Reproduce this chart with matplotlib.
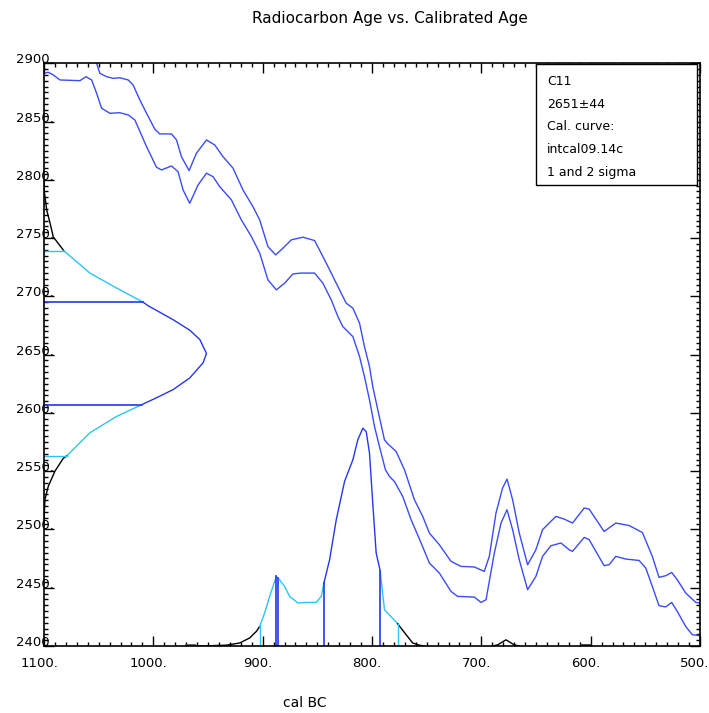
import numpy as np
import matplotlib.pyplot as plt
from matplotlib.patches import Rectangle
from matplotlib.ticker import MultipleLocator, FixedLocator
from matplotlib.transforms import ScaledTranslation

# calibration curve, upper and lower envelope (cal BC, 14C age BP)
upper_cal = [1055, 1051.9, 1048.9, 1042.7, 1036.7, 1030.6, 1023.0, 1018.5, 1012.3, 1006.2, 998.6, 994.1,
             983.4, 978.8, 974.3, 967.3, 960.6, 951.4, 943.8, 936.3, 927.1, 918.0, 908.9, 902.7,
             895.2, 888.1, 881.5, 873.8, 863.2, 852.5, 841.8, 832.7, 823.6, 817.5, 811.4, 806.9,
             802.3, 799.3, 794.7, 788.6, 785.6, 777.9, 770.3, 761.2, 753.6, 747.5, 738.4, 727.7,
             718.6, 706.4, 697.3, 692.7, 686.6, 680.6, 676.5, 671.4, 665.3, 657.7, 650.1, 644.0,
             631.8, 624.2, 616.6, 605.9, 601.4, 587.7, 577.0, 564.9, 552.7, 543.6, 537.5, 531.4,
             525.9, 520.8, 513.1, 503.9, 500]
upper_age = [2910, 2900, 2891.4, 2888.5, 2887.1, 2887.6, 2885.7, 2881.4, 2868.5, 2857.1, 2843.4, 2839.4,
             2839.4, 2834.2, 2819.9, 2807.9, 2822.8, 2834.2, 2829.9, 2819.9, 2810.0, 2791.3, 2777.0, 2765.6,
             2742.7, 2735.6, 2741.3, 2748.5, 2750.8, 2747.9, 2728.5, 2711.3, 2694.2, 2689.9, 2677.0, 2656.9,
             2639.8, 2622.6, 2602.7, 2576.9, 2573.5, 2566.9, 2551.2, 2525.5, 2511.2, 2496.9, 2486.9, 2472.6,
             2468.3, 2467.8, 2464.0, 2476.9, 2514.1, 2535.5, 2543.2, 2525.5, 2496.9, 2469.7, 2482.6, 2499.8,
             2511.2, 2508.9, 2505.5, 2518.4, 2517.5, 2498.3, 2505.5, 2503.4, 2497.4, 2476.9, 2458.9, 2460.3,
             2463.1, 2456.9, 2445.5, 2437.4, 2436.9]

lower_cal = [1100, 1096.1, 1091.5, 1085.4, 1067.1, 1061.6, 1056.4, 1051.9, 1047.3, 1039.7, 1030.6, 1023.0,
             1016.9, 1006.2, 997.1, 992.5, 983.4, 977.4, 972.8, 966.7, 959.1, 951.4, 945.4, 939.3,
             928.6, 919.5, 910.3, 902.7, 895.2, 887.5, 879.9, 872.3, 864.7, 852.5, 844.9, 837.3,
             831.2, 826.7, 817.5, 811.4, 806.9, 802.3, 797.7, 793.2, 787.7, 784.0, 779.5, 771.9,
             764.2, 755.1, 747.5, 738.4, 727.7, 721.7, 706.4, 700.3, 695.7, 688.1, 682.0, 676.5,
             671.4, 665.3, 657.7, 650.1, 644.0, 636.4, 627.2, 619.7, 616.6, 605.9, 601.4, 587.7,
             583.1, 577.0, 567.9, 555.7, 549.6, 543.6, 537.5, 531.4, 525.9, 520.8, 513.1, 507.1, 500]
lower_age = [2891.4, 2892.3, 2890.0, 2885.7, 2885.1, 2888.5, 2885.7, 2874.3, 2861.4, 2857.1, 2857.6, 2855.7,
             2851.4, 2828.5, 2810.8, 2808.5, 2811.9, 2807.0, 2791.3, 2779.9, 2795.6, 2805.7, 2802.7, 2794.2,
             2782.8, 2765.6, 2751.3, 2737.1, 2714.2, 2705.6, 2711.3, 2719.3, 2720.0, 2720.0, 2711.3, 2697.0,
             2682.7, 2674.1, 2665.5, 2648.4, 2631.2, 2611.2, 2588.3, 2571.2, 2551.2, 2545.5, 2541.2, 2528.3,
             2508.3, 2488.4, 2471.2, 2462.6, 2446.8, 2442.6, 2442.0, 2437.4, 2439.7, 2479.8, 2505.5, 2516.9,
             2499.8, 2474.0, 2448.3, 2459.7, 2476.9, 2486.0, 2488.4, 2482.6, 2481.2, 2493.2, 2491.3, 2468.9,
             2469.8, 2476.9, 2474.6, 2473.4, 2466.9, 2451.1, 2434.6, 2433.5, 2437.4, 2429.7, 2416.8, 2409.7, 2408.8]

# radiocarbon date 2651+-44 drawn on the age axis
rc_age = [2800, 2790, 2774, 2763, 2751, 2739, 2720, 2708, 2695, 2692, 2680, 2671, 2663, 2651, 2643,
          2630, 2620, 2613, 2607, 2597, 2583, 2563, 2561, 2550, 2537, 2526, 2514, 2504]
rc_cal = [1100, 1099.7, 1097.5, 1094.5, 1091.5, 1081.7, 1058.0, 1035.2, 1009.3, 1004.8, 981.9, 966.7,
          957.5, 951.4, 954.5, 966.7, 981.9, 997.1, 1010.8, 1033.6, 1058.0, 1079.3, 1082.4, 1090.0,
          1096.1, 1099.1, 1099.7, 1100]
sig1_age = [2607, 2695]
sig2_age = [2563, 2739]

# calibrated distribution on the calendar axis
pd_cal = [969, 957.5, 933.2, 921.0, 911.9, 905.8, 902.7, 898.2, 893.6, 887.5, 884.5, 879.9, 875.4,
          867.8, 860.1, 851.0, 846.4, 844.0, 838.8, 832.7, 825.1, 817.5, 813.0, 808.4, 805.3, 802.3,
          799.3, 796.2, 792.5, 788.6, 776.5, 768.8, 762.8, 756.7, 752]
pd_age = [2400, 2400, 2400.7, 2402.6, 2406.9, 2412.5, 2416.8, 2428.3, 2442.6, 2459.7, 2456.8, 2451.1,
          2442.6, 2436.9, 2437.4, 2437.4, 2442.6, 2454.0, 2474.0, 2508.3, 2541.2, 2559.8, 2576.9, 2586.9,
          2584.0, 2565.5, 2522.6, 2479.8, 2464.5, 2431.1, 2419.1, 2409.7, 2402.6, 2400.7, 2400]
bump_cal = [690, 685, 677.5, 670, 665]
bump_age = [2400, 2401, 2405.3, 2401, 2400]
sig2_cal = [902.7, 776.5]
sig1_cal = [887.5, 886.0, 844.0, 792.5]
legend_lines = ["C11", "2651\u00b144", "Cal. curve:", "intcal09.14c", "1 and 2 sigma"]

curve_c = '#3a4cf5'
blue_c = '#2436f2'
cyan_c = '#2ec3f5'

W, H = 709, 713
fig = plt.figure(figsize=(W / 100, H / 100), dpi=100)
ax = fig.add_axes([44 / W, 67 / H, 656 / W, 582.7 / H])

ax.plot(upper_cal, upper_age, color=curve_c, lw=1.0)
ax.plot(lower_cal, lower_age, color=curve_c, lw=1.0)

# age distribution, split by sigma ranges
rc_age_a = np.array(rc_age)
rc_cal_a = np.array(rc_cal)
segs = [(rc_age_a >= sig2_age[1], 'black'),
        ((rc_age_a <= sig2_age[1]) & (rc_age_a >= sig1_age[1]), cyan_c),
        ((rc_age_a <= sig1_age[1]) & (rc_age_a >= sig1_age[0]), blue_c),
        ((rc_age_a <= sig1_age[0]) & (rc_age_a >= sig2_age[0]), cyan_c),
        (rc_age_a <= sig2_age[0], 'black')]
for m, c in segs:
    ax.plot(rc_cal_a[m], rc_age_a[m], color=c, lw=1.0)
for a in sig2_age:
    ax.plot([1100, np.interp(a, rc_age_a[::-1], rc_cal_a[::-1])], [a, a], color=cyan_c, lw=1.0)
for a in sig1_age:
    ax.plot([1100, np.interp(a, rc_age_a[::-1], rc_cal_a[::-1])], [a, a], color=blue_c, lw=1.2)

# calendar distribution
pc = np.array(pd_cal)
pa = np.array(pd_age)
segs = [(pc >= sig2_cal[0], 'black'),
        ((pc <= sig2_cal[0]) & (pc >= sig1_cal[2]), cyan_c),
        ((pc <= sig1_cal[2]) & (pc >= sig1_cal[3]), blue_c),
        ((pc <= sig1_cal[3]) & (pc >= sig2_cal[1]), cyan_c),
        (pc <= sig2_cal[1], 'black')]
for m, c in segs:
    ax.plot(pc[m], pa[m], color=c, lw=1.0)
ax.plot(bump_cal, bump_age, color='black', lw=1.0)
ax.plot([970, 963], [2400.6, 2400.6], color='#555555', lw=2)
ax.plot([609, 601], [2400.6, 2400.6], color='#333333', lw=2)
for x in sig2_cal:
    ax.plot([x, x], [2400, np.interp(x, pc[::-1], pa[::-1])], color=cyan_c, lw=1.0)
for x in sig1_cal:
    ax.plot([x, x], [2400, np.interp(x, pc[::-1], pa[::-1])], color=blue_c, lw=1.2)

ax.set_xlim(1100, 500)
ax.set_ylim(2400, 2900)
xt = [1100, 1000, 900, 800, 700, 600, 500]
yt = list(range(2400, 2901, 50))
ax.xaxis.set_major_locator(FixedLocator(xt))
ax.yaxis.set_major_locator(FixedLocator(yt))
ax.set_xticklabels([f"{v}." for v in xt])
ax.set_yticklabels([f"{v}." for v in yt])
ax.xaxis.set_minor_locator(MultipleLocator(10))
ax.yaxis.set_minor_locator(MultipleLocator(5))
ax.tick_params(which='both', direction='in', top=True, right=True, width=1.0, labelsize=9.5)
ax.tick_params(which='major', length=7)
ax.tick_params(which='minor', length=3)
ax.tick_params(axis='x', pad=8)
ax.tick_params(axis='y', pad=-7)
plt.setp(ax.get_yticklabels(), va='baseline')
# labels sit a few pixels left of their ticks
shift = ScaledTranslation(-5 / 100, 0, fig.dpi_scale_trans)
for lbl in ax.get_xticklabels():
    lbl.set_transform(lbl.get_transform() + shift)
for s in ax.spines.values():
    s.set_linewidth(1.2)

fig.text(390 / W, 1 - 18 / H, "Radiocarbon Age vs. Calibrated Age", ha='center', va='center', fontsize=11)
fig.text(305 / W, 1 - 703 / H, "cal BC", ha='center', va='center', fontsize=10)

fig.patches.append(Rectangle((536 / W, 1 - 185 / H), 161 / W, 121 / H, transform=fig.transFigure,
                             fill=True, facecolor='white', edgecolor='black', lw=1.0, zorder=5))
for i, t in enumerate(legend_lines):
    fig.text(547 / W, 1 - (81.7 + 22.6 * i) / H, t, ha='left', va='center', fontsize=9, zorder=6)

fig.savefig('out.png', dpi=100)
